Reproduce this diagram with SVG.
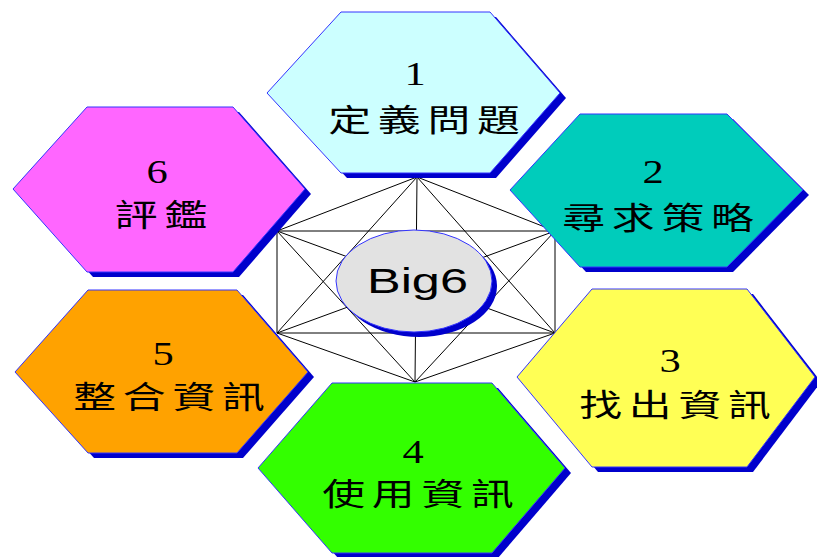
<svg xmlns="http://www.w3.org/2000/svg" width="817" height="557" viewBox="0 0 817 557">
<style>
.sh{fill:#0000CC;stroke:none}
.hx{stroke:#3333FF;stroke-width:1}
.num{font-family:"Liberation Serif","Noto Sans CJK TC",serif;font-size:34px;fill:#000}
.lab{font-family:"Liberation Serif","Noto Sans CJK TC",serif;font-size:31px;fill:#000;letter-spacing:5px}
.web line{stroke:#000;stroke-width:1}
</style>
<rect width="817" height="557" fill="#fff"/>
<g id="connectors" class="web">
<line x1="277" y1="231" x2="555" y2="231"/>
<line x1="277" y1="333" x2="555" y2="333"/>
<line x1="277" y1="231" x2="277" y2="333"/>
<line x1="555" y1="231" x2="555" y2="333"/>
<line x1="417" y1="177" x2="277" y2="231"/>
<line x1="417" y1="177" x2="555" y2="231"/>
<line x1="417" y1="177" x2="277" y2="333"/>
<line x1="417" y1="177" x2="555" y2="333"/>
<line x1="417" y1="177" x2="415" y2="382"/>
<line x1="415" y1="382" x2="277" y2="333"/>
<line x1="415" y1="382" x2="555" y2="333"/>
<line x1="415" y1="382" x2="277" y2="231"/>
<line x1="415" y1="382" x2="555" y2="231"/>
<line x1="277" y1="231" x2="555" y2="333"/>
<line x1="555" y1="231" x2="277" y2="333"/>
</g>
<g id="step1">
<polygon class="sh" transform="translate(6,5)" points="341,12 490,12 560,93 490,173 341,173 267,93"/>
<polygon class="hx" fill="#CCFFFF" points="341,12 490,12 560,93 490,173 341,173 267,93"/>
<text class="num" transform="translate(415,85) scale(1.25,1)" text-anchor="middle">1</text>
<text class="lab" transform="translate(424,131) scale(1.38,1)" x="2.5" text-anchor="middle">定義問題</text>
</g>
<g id="step2">
<polygon class="sh" transform="translate(6,5)" points="580,114 727,114 803,190 727,267 580,267 510,190"/>
<polygon class="hx" fill="#00CCBB" points="580,114 727,114 803,190 727,267 580,267 510,190"/>
<text class="num" transform="translate(653,183) scale(1.25,1)" text-anchor="middle">2</text>
<text class="lab" transform="translate(658,229) scale(1.38,1)" x="2.5" text-anchor="middle">尋求策略</text>
</g>
<g id="step3">
<polygon class="sh" transform="translate(6,5)" points="592,289 747,289 815,377 747,467 592,467 517,377"/>
<polygon class="hx" fill="#FFFF55" points="592,289 747,289 815,377 747,467 592,467 517,377"/>
<text class="num" transform="translate(670,372) scale(1.25,1)" text-anchor="middle">3</text>
<text class="lab" transform="translate(675,416) scale(1.38,1)" x="2.5" text-anchor="middle">找出資訊</text>
</g>
<g id="step4">
<polygon class="sh" transform="translate(6,5)" points="332,383 492,383 565,468 492,553 332,553 258,468"/>
<polygon class="hx" fill="#33FF00" points="332,383 492,383 565,468 492,553 332,553 258,468"/>
<text class="num" transform="translate(413,463) scale(1.25,1)" text-anchor="middle">4</text>
<text class="lab" transform="translate(418,505) scale(1.38,1)" x="2.5" text-anchor="middle">使用資訊</text>
</g>
<g id="step5">
<polygon class="sh" transform="translate(6,5)" points="88,290 237,290 308,372 237,453 88,453 15,372"/>
<polygon class="hx" fill="#FFA200" points="88,290 237,290 308,372 237,453 88,453 15,372"/>
<text class="num" transform="translate(163,365) scale(1.25,1)" text-anchor="middle">5</text>
<text class="lab" transform="translate(169,408) scale(1.38,1)" x="2.5" text-anchor="middle">整合資訊</text>
</g>
<g id="step6">
<polygon class="sh" transform="translate(6,5)" points="87,107 233,107 305,189 233,272 87,272 13,189"/>
<polygon class="hx" fill="#FF66FF" points="87,107 233,107 305,189 233,272 87,272 13,189"/>
<text class="num" transform="translate(157,183) scale(1.25,1)" text-anchor="middle">6</text>
<text class="lab" transform="translate(161,226) scale(1.38,1)" x="2.5" text-anchor="middle">評鑑</text>
</g>
<g id="big6">
<ellipse cx="419" cy="286" rx="78" ry="51" fill="#0000CC"/>
<ellipse cx="414" cy="281" rx="78" ry="51" fill="#E2E2E2" stroke="#3333FF" stroke-width="1"/>
<text x="367" y="293" font-family="Liberation Sans, Arial, sans-serif" font-size="35" textLength="101" lengthAdjust="spacingAndGlyphs" fill="#000">Big6</text>
</g>
</svg>
